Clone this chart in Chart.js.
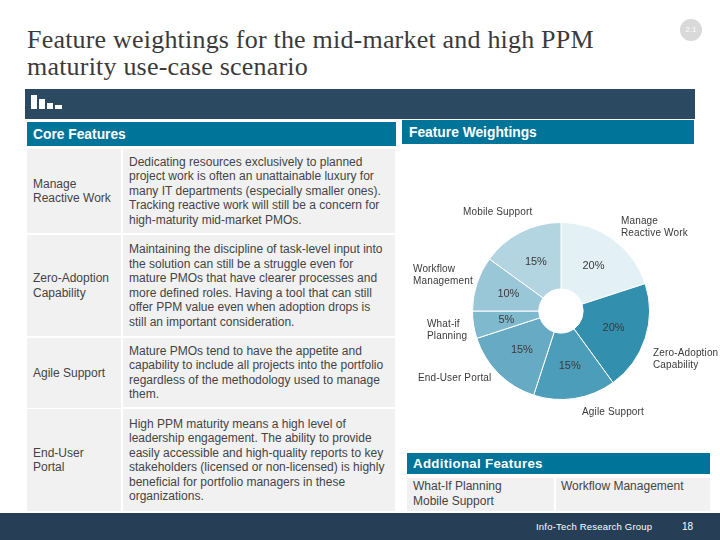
<!DOCTYPE html>
<html>
<head>
<meta charset="utf-8">
<script src="https://cdn.jsdelivr.net/npm/chart.js@4"></script>
<style>
html, body { margin: 0; padding: 0; background: #fff; }
body { width: 720px; height: 540px; position: relative; overflow: hidden; font-family: "Liberation Sans", Arial, sans-serif; color: #444; }
.box { position: absolute; }
.cell { position: absolute; background: #f1f1f1; font-size: 12px; line-height: 14.5px; display: flex; align-items: center; box-sizing: border-box; }
.head { position: absolute; background: #007499; color: #fff; font-weight: bold; display: flex; align-items: center; box-sizing: border-box; }
.lbl { position: absolute; font-size: 10px; line-height: 12px; letter-spacing: .15px; white-space: nowrap; color: #3a3a3a; }
#title { left: 27px; top: 26px; font-family: "Liberation Serif", serif; font-size: 26px; line-height: 27px; letter-spacing: .2px; color: #3a3a3a; white-space: nowrap; }
#pie { position: absolute; left: 461px; top: 211px; width: 200px; height: 200px; }
</style>
</head>
<body>
<div class="box" id="title">Feature weightings for the mid-market and high PPM<br>maturity use-case scenario</div>
<div class="box" style="left:680px;top:19px;width:22px;height:22px;border-radius:50%;background:#d9d9d9;color:#fff;font-size:8px;line-height:22px;text-align:center">2.1</div>

<div class="box" style="left:25px;top:89px;width:670px;height:30px;background:#2b4a62"></div>
<div class="box" style="left:31px;top:95px;width:6px;height:14px;background:#fff"></div>
<div class="box" style="left:39px;top:99px;width:6px;height:10px;background:#fff"></div>
<div class="box" style="left:47px;top:103px;width:6px;height:6px;background:#fff"></div>
<div class="box" style="left:55px;top:105px;width:7px;height:4px;background:#fff"></div>

<div class="head" style="left:27px;top:122px;width:369px;height:24px;padding-left:6px;font-size:13.8px">Core Features</div>
<div class="head" style="left:402px;top:120px;width:292px;height:24px;padding-left:7px;font-size:13.8px">Feature Weightings</div>

<div class="cell" style="left:27px;top:149px;width:94px;height:84px;padding-left:6px">Manage<br>Reactive Work</div>
<div class="cell" style="left:123px;top:149px;width:272px;height:84px;padding-left:6px"><div>Dedicating resources exclusively to planned<br>project work is often an unattainable luxury for<br>many IT departments (especially smaller ones).<br>Tracking reactive work will still be a concern for<br>high-maturity mid-market PMOs.</div></div>
<div class="cell" style="left:27px;top:235px;width:94px;height:101px;padding-left:6px">Zero-Adoption<br>Capability</div>
<div class="cell" style="left:123px;top:235px;width:272px;height:101px;padding-left:6px"><div>Maintaining the discipline of task-level input into<br>the solution can still be a struggle even for<br>mature PMOs that have clearer processes and<br>more defined roles. Having a tool that can still<br>offer PPM value even when adoption drops is<br>still an important consideration.</div></div>
<div class="cell" style="left:27px;top:338px;width:94px;height:70px;padding-left:6px">Agile Support</div>
<div class="cell" style="left:123px;top:338px;width:272px;height:69px;padding-left:6px"><div>Mature PMOs tend to have the appetite and<br>capability to include all projects into the portfolio<br>regardless of the methodology used to manage<br>them.</div></div>
<div class="cell" style="left:27px;top:409px;width:94px;height:102px;padding-left:6px">End-User<br>Portal</div>
<div class="cell" style="left:123px;top:409px;width:272px;height:102px;padding-left:6px"><div>High PPM maturity means a high level of<br>leadership engagement. The ability to provide<br>easily accessible and high-quality reports to key<br>stakeholders (licensed or non-licensed) is highly<br>beneficial for portfolio managers in these<br>organizations.</div></div>

<div id="pie"><canvas id="weights-chart"></canvas></div>
<div class="lbl" style="left:463px;top:206px">Mobile Support</div>
<div class="lbl" style="left:621px;top:215px">Manage<br>Reactive Work</div>
<div class="lbl" style="left:413px;top:263px">Workflow<br>Management</div>
<div class="lbl" style="left:427px;top:318px">What-if<br>Planning</div>
<div class="lbl" style="left:418px;top:372px">End-User Portal</div>
<div class="lbl" style="left:653px;top:347px">Zero-Adoption<br>Capability</div>
<div class="lbl" style="left:582px;top:406px">Agile Support</div>

<div class="head" style="left:407px;top:453px;width:303px;height:21px;padding-left:6px;font-size:13.3px;letter-spacing:.3px">Additional Features</div>
<div class="cell" style="left:407px;top:478px;width:147px;height:33px;padding-left:6px;padding-bottom:2px">What-If Planning<br>Mobile Support</div>
<div class="cell" style="left:556px;top:478px;width:154px;height:33px;padding-left:5px;padding-bottom:16px">Workflow Management</div>

<div class="box" style="left:0;top:513px;width:720px;height:27px;background:#263f56"></div>
<div class="box" style="left:536px;top:521px;color:#fff;font-size:9.5px;line-height:12px;letter-spacing:.2px;white-space:nowrap">Info-Tech Research Group</div>
<div class="box" style="left:682px;top:521px;color:#fff;font-size:10px;line-height:12px">18</div>

<script>
const featureNames = ['Manage Reactive Work', 'Zero-Adoption Capability', 'Agile Support', 'End-User Portal', 'What-if Planning', 'Workflow Management', 'Mobile Support'];
const featureWeights = [20, 20, 15, 15, 5, 10, 15];
const sliceColors = ['#e3f0f5', '#338fae', '#4c9db9', '#66abc3', '#7fb9cd', '#99c7d7', '#b2d5e1'];

// writes the percentage in the middle of each slice
const percentLabels = {
    id: 'percentLabels',
    afterDatasetsDraw(chart) {
        const ctx = chart.ctx;
        ctx.save();
        ctx.font = '11px "Liberation Sans", Arial, sans-serif';
        ctx.fillStyle = '#3a3a3a';
        ctx.textAlign = 'center';
        ctx.textBaseline = 'middle';
        chart.getDatasetMeta(0).data.forEach((arc, i) => {
            const pos = arc.tooltipPosition();
            ctx.fillText(featureWeights[i] + '%', pos.x, pos.y);
        });
        ctx.restore();
    }
};

const ctx = document.getElementById('weights-chart').getContext('2d');
const weightsChart = new Chart(ctx, {
    type: 'doughnut',
    data: {
        labels: featureNames,
        datasets: [{
            data: featureWeights,
            backgroundColor: sliceColors,
            borderColor: '#fff',
            borderWidth: 1
        }]
    },
    options: {
        responsive: true,
        maintainAspectRatio: true,
        animation: false,
        cutout: '25%',
        layout: { padding: 11 },
        plugins: {
            legend: { display: false },
            tooltip: { enabled: false }
        }
    },
    plugins: [percentLabels]
});
</script>
</body>
</html>
